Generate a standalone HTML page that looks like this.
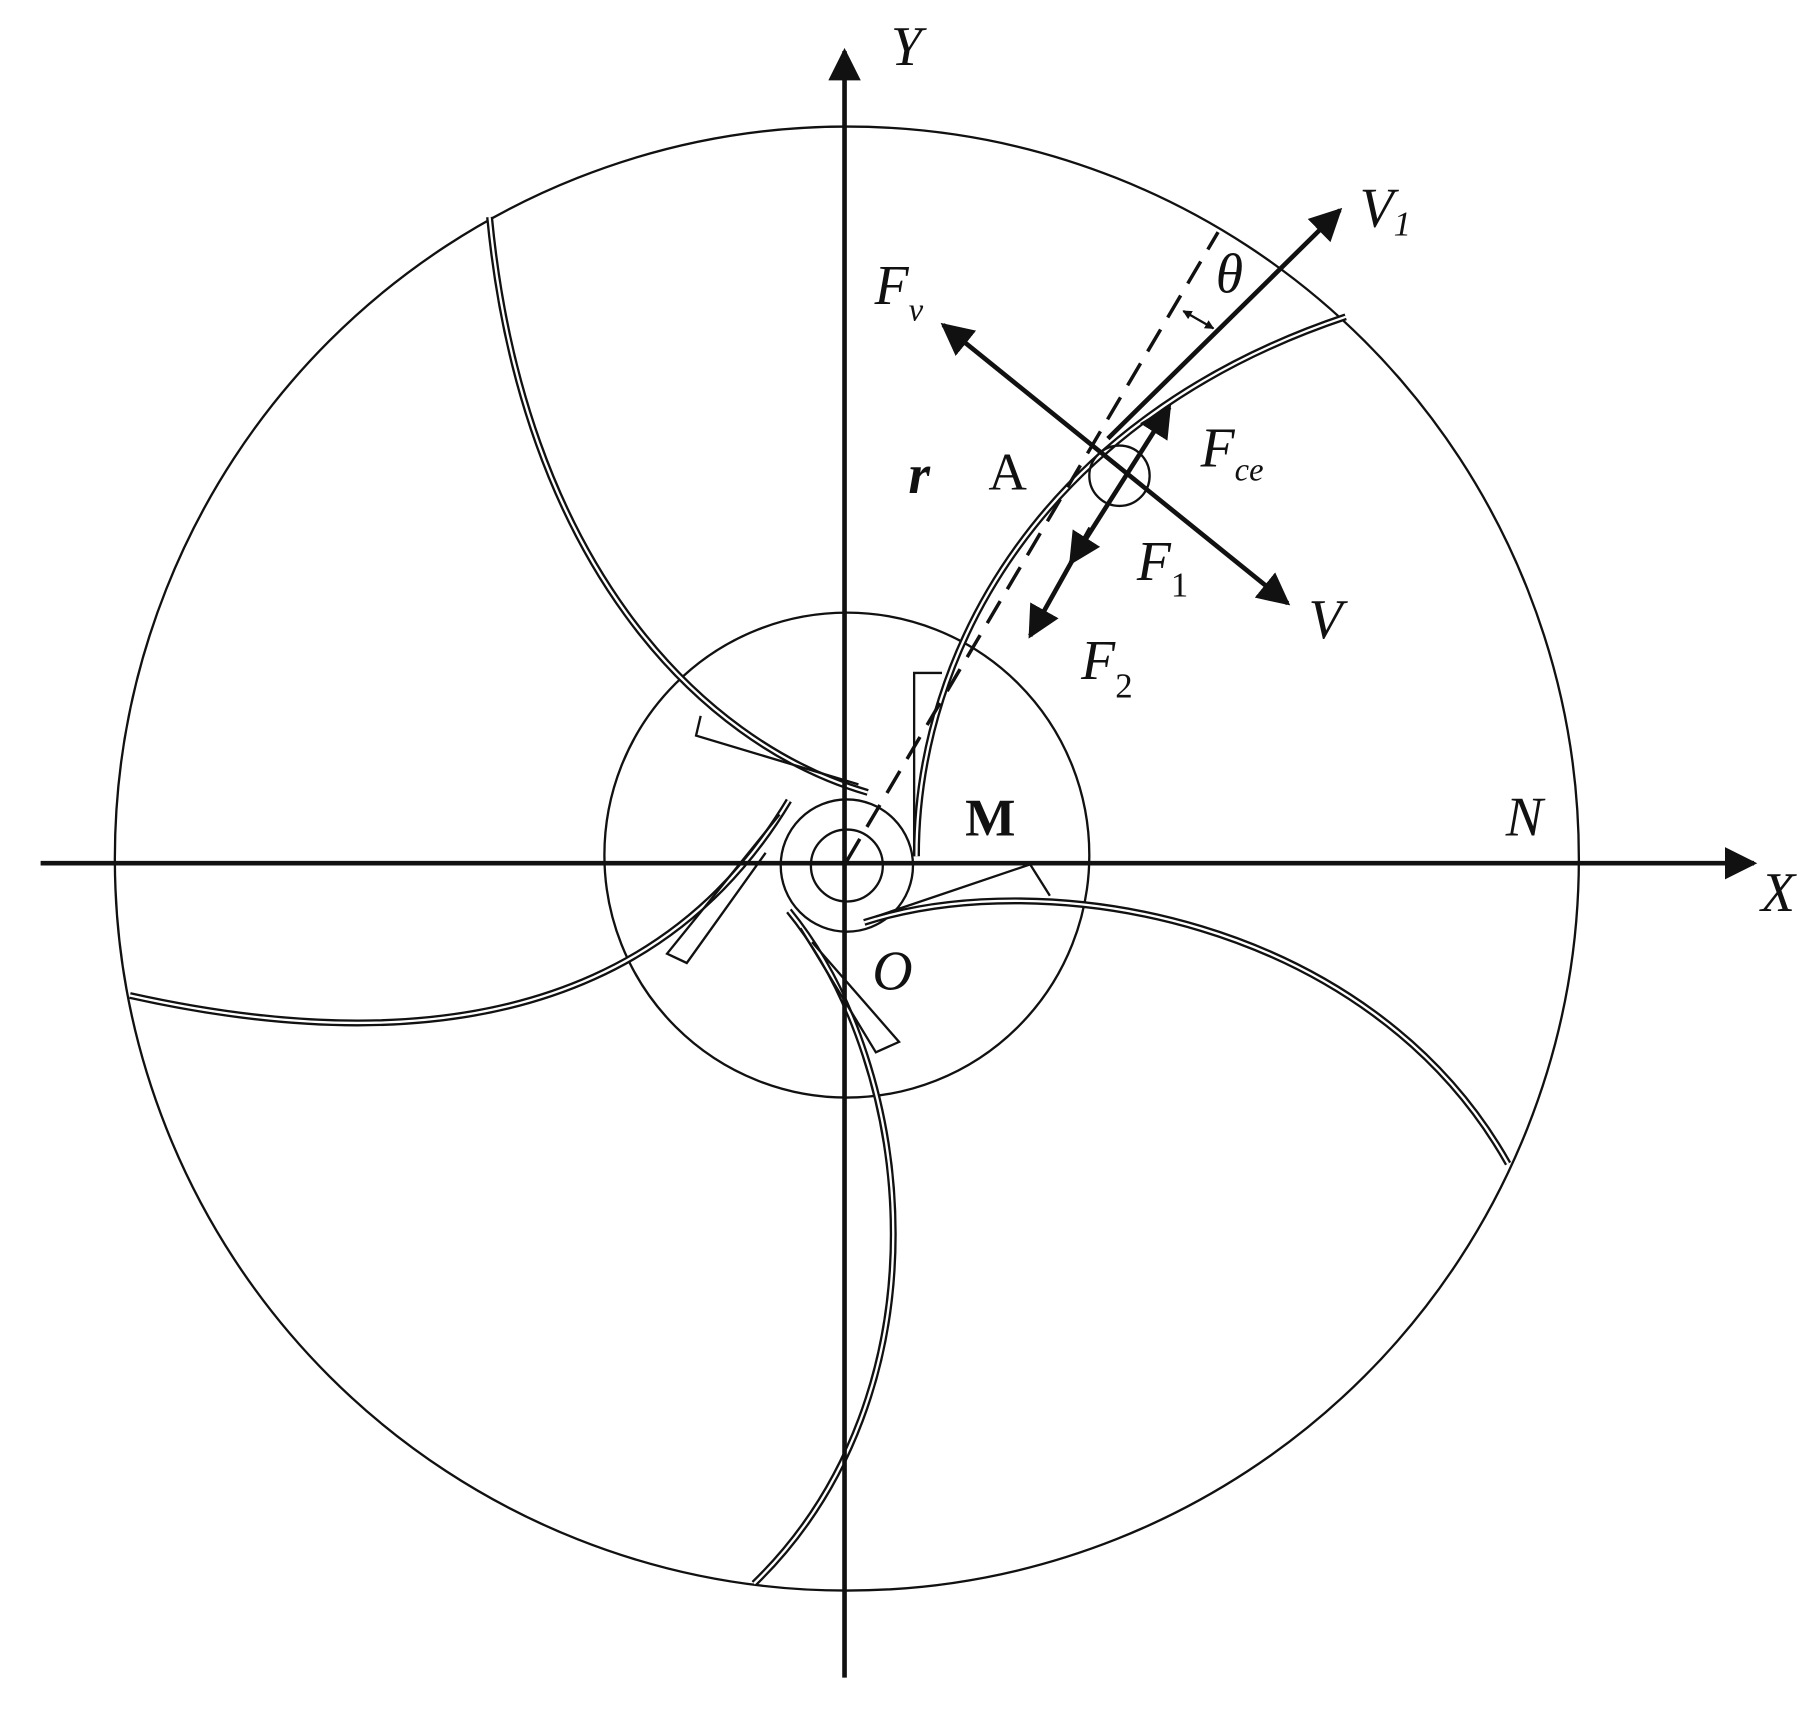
<!DOCTYPE html>
<html><head><style>html,body{margin:0;padding:0;background:#fff}svg{display:block}
text{font-family:"Liberation Serif",serif;fill:#111}</style></head><body>
<svg width="1819" height="1716" viewBox="0 0 1568 1479" xmlns="http://www.w3.org/2000/svg">
<defs><marker id="ah" viewBox="0 0 10 10" refX="9" refY="5" markerWidth="7" markerHeight="7" orient="auto-start-reverse"><path d="M0,0L10,5L0,10z" fill="#111"/></marker>
<marker id="sm" viewBox="0 0 10 10" refX="9" refY="5" markerWidth="4" markerHeight="4" orient="auto-start-reverse"><path d="M0,0L10,5L0,10z" fill="#111"/></marker></defs>
<g fill="none" stroke="#111">
<circle cx="730" cy="740" r="631" stroke-width="2"/>
<circle cx="730" cy="737" r="209" stroke-width="2"/>
<circle cx="730" cy="746" r="57" stroke-width="2"/>
<circle cx="730" cy="746" r="31" stroke-width="2"/>
<g stroke-width="6"><path d="M790,738 C790,560 900,360 1160,273"/><path d="M748,683 C600,640 450,480 422,187"/><path d="M680,690 C620,790 480,940 112,858"/><path d="M680,785 C790,920 820,1200 650,1365"/><path d="M745,795 C900,745 1180,790 1300,1003"/></g>
<g stroke="#fff" stroke-width="2"><path d="M790,738 C790,560 900,360 1160,273"/><path d="M748,683 C600,640 450,480 422,187"/><path d="M680,690 C620,790 480,940 112,858"/><path d="M680,785 C790,920 820,1200 650,1365"/><path d="M745,795 C900,745 1180,790 1300,1003"/></g>
<g stroke-width="2">
<path d="M788,738 L788,580 L812,580"/>
<path d="M604,617 L600,634 L740,676"/>
<path d="M672,702 L575,822 L592,830 L660,735"/>
<path d="M690,800 L755,907 L775,898 L700,812"/>
<path d="M755,790 L888,745 L905,772"/>
</g>
<circle cx="965" cy="410" r="26" stroke-width="2"/>
<path d="M730,742 L1050,200" stroke-width="3" stroke-dasharray="22,12"/>
<g stroke-width="4">
<line x1="35" y1="744" x2="1512" y2="744" marker-end="url(#ah)"/>
<line x1="728" y1="1446" x2="728" y2="44" marker-end="url(#ah)"/>
<line x1="955" y1="378" x2="1155" y2="181" marker-end="url(#ah)"/>
<line x1="813" y1="280" x2="1110" y2="520" marker-start="url(#ah)" marker-end="url(#ah)"/>
<line x1="1008" y1="351" x2="923" y2="485" marker-start="url(#ah)" marker-end="url(#ah)"/>
<line x1="940" y1="455" x2="888" y2="548" marker-end="url(#ah)"/>
</g>
<line x1="1020" y1="268" x2="1046" y2="283" stroke-width="2" marker-start="url(#sm)" marker-end="url(#sm)"/>
</g>
<g font-size="48" font-style="italic">
<text x="768" y="56">Y</text>
<text x="1172" y="195">V<tspan font-size="30" dy="8">1</tspan></text>
<text x="1048" y="252">θ</text>
<text x="754" y="262">F<tspan font-size="28" dy="14">v</tspan></text>
<text x="1035" y="402">F<tspan font-size="28" dy="12">ce</tspan></text>
<text x="783" y="425" font-weight="bold">r</text>
<text x="980" y="500">F<tspan font-size="30" dy="14" font-style="normal">1</tspan></text>
<text x="1128" y="550">V</text>
<text x="932" y="585">F<tspan font-size="30" dy="16" font-style="normal">2</tspan></text>
<text x="1298" y="720">N</text>
<text x="1518" y="785">X</text>
<text x="752" y="853">O</text>
</g>
<text x="852" y="422" font-size="46">A</text>
<text x="832" y="720" font-size="46" font-weight="bold">M</text>
</svg>
</body></html>
